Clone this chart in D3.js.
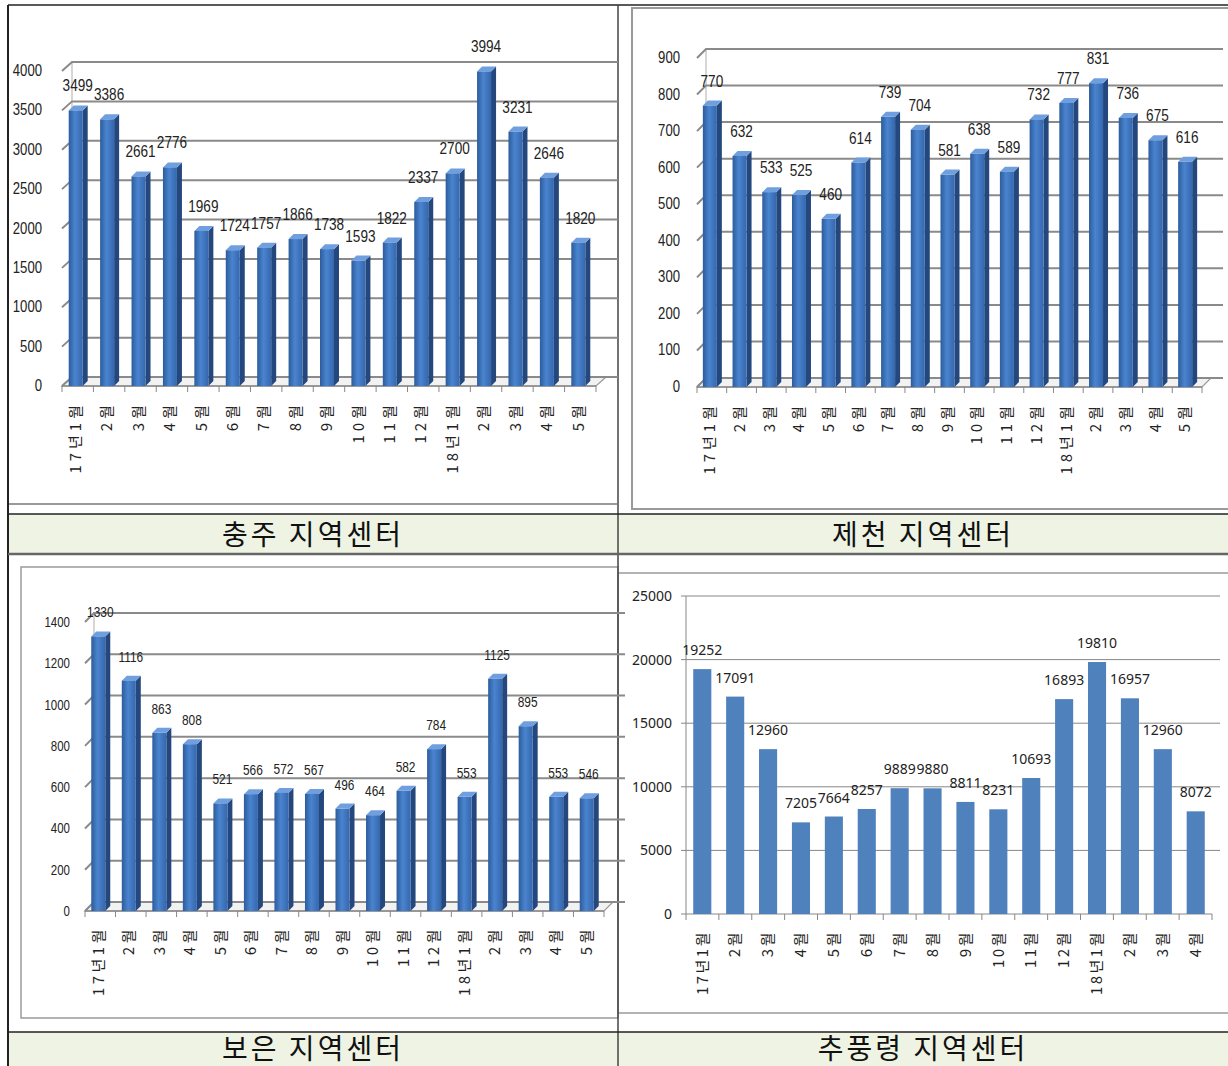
<!DOCTYPE html>
<html>
<head>
<meta charset="utf-8">
<script src="https://cdn.jsdelivr.net/npm/d3@7"></script>
<style>
  body { margin: 0; background: #fff; }
  svg { display: block; }
</style>
</head>
<body>
<svg width="1228" height="1066"></svg>
<script>
// months used on the x axes
const months17 = ["17년1월", "2월", "3월", "4월", "5월", "6월", "7월", "8월", "9월", "10월", "11월", "12월", "18년1월", "2월", "3월", "4월", "5월"];
const months16 = months17.slice(0, 16);

const chungjuValues = [3499, 3386, 2661, 2776, 1969, 1724, 1757, 1866, 1738, 1593, 1822, 2337, 2700, 3994, 3231, 2646, 1820];
const jecheonValues = [770, 632, 533, 525, 460, 614, 739, 704, 581, 638, 589, 732, 777, 831, 736, 675, 616];
const boeunValues = [1330, 1116, 863, 808, 521, 566, 572, 567, 496, 464, 582, 784, 553, 1125, 895, 553, 546];
const chupungValues = [19252, 17091, 12960, 7205, 7664, 8257, 9889, 9880, 8811, 8231, 10693, 16893, 19810, 16957, 12960, 8072];

const chungjuTicks = d3.range(0, 4001, 500);
const jecheonTicks = d3.range(0, 901, 100);
const boeunTicks = d3.range(0, 1401, 200);
const chupungTicks = d3.range(0, 25001, 5000);

const captions = ["충주 지역센터", "제천 지역센터", "보은 지역센터", "추풍령 지역센터"];

const svg = d3.select("svg");
const numFont = "'Liberation Sans', 'Noto Sans', sans-serif";
const krFont = "'Noto Sans CJK KR', sans-serif";

// gradient for the 3d bar fronts
const defs = svg.append("defs");
const grad = defs.append("linearGradient").attr("id", "barFront");
grad.append("stop").attr("offset", "0%").attr("stop-color", "#2c5c9c");
grad.append("stop").attr("offset", "45%").attr("stop-color", "#4a84cf");
grad.append("stop").attr("offset", "100%").attr("stop-color", "#3567ad");

// ---- table frame and captions ----
const frame = svg.append("g");

frame.append("rect").attr("x", 8).attr("y", 514).attr("width", 1230).attr("height", 40).attr("fill", "#eef3e4");
frame.append("rect").attr("x", 8).attr("y", 1032).attr("width", 1230).attr("height", 40).attr("fill", "#eef3e4");

// inner picture frames
frame.append("line").attr("x1", 8).attr("x2", 617).attr("y1", 504).attr("y2", 504).attr("stroke", "#999").attr("stroke-width", 2);
frame.append("rect").attr("x", 632).attr("y", 8).attr("width", 600).attr("height", 501)
  .attr("fill", "none").attr("stroke", "#9a9a9a").attr("stroke-width", 2);
frame.append("rect").attr("x", 21).attr("y", 567).attr("width", 597).attr("height", 451)
  .attr("fill", "none").attr("stroke", "#9a9a9a").attr("stroke-width", 1.5);
frame.append("rect").attr("x", 618).attr("y", 573).attr("width", 620).attr("height", 440)
  .attr("fill", "none").attr("stroke", "#9a9a9a").attr("stroke-width", 1.5);

// table lines
const tableLines = [
  [8, 5, 1228, 5, "#222", 1.5],
  [8, 5, 8, 1066, "#222", 2],
  [618, 5, 618, 1066, "#444", 1.5],
  [8, 514, 1228, 514, "#222", 1.5],
  [8, 554, 1228, 554, "#666", 2.5],
  [8, 1032, 1228, 1032, "#222", 1.5]
];
frame.selectAll("line.tbl")
  .data(tableLines)
  .join("line")
  .attr("class", "tbl")
  .attr("x1", d => d[0]).attr("y1", d => d[1])
  .attr("x2", d => d[2]).attr("y2", d => d[3])
  .attr("stroke", d => d[4]).attr("stroke-width", d => d[5]);

const capPos = [[313, 545], [923, 545], [313, 1059], [923, 1059]];
frame.selectAll("text.cap")
  .data(captions)
  .join("text")
  .attr("class", "cap")
  .attr("x", (d, i) => capPos[i][0])
  .attr("y", (d, i) => capPos[i][1])
  .attr("text-anchor", "middle")
  .style("font-family", krFont)
  .style("font-size", "28px")
  .style("letter-spacing", "3px")
  .attr("fill", "#111")
  .text(d => d);

// ---- 3d style column chart ----
function draw3D(cfg) {
  const g = svg.append("g");
  const dx = cfg.dx, dy = cfg.dy;

  const x = d3.scaleBand()
    .domain(d3.range(cfg.values.length))
    .range([cfg.left, cfg.right]);

  const y = d3.scaleLinear()
    .domain([0, d3.max(cfg.ticks)])
    .range([cfg.bottom, cfg.top]);

  // floor
  g.append("polygon")
    .attr("points", [[cfg.left, cfg.bottom], [cfg.right, cfg.bottom], [cfg.right + dx, cfg.bottom + dy], [cfg.left + dx, cfg.bottom + dy]].join(" "))
    .attr("fill", "#f2f2f2")
    .attr("stroke", "#999")
    .attr("stroke-width", 1.2);

  // left wall edge
  g.append("line")
    .attr("x1", cfg.left + dx).attr("x2", cfg.left + dx)
    .attr("y1", y(0) + dy).attr("y2", y(d3.max(cfg.ticks)) + dy)
    .attr("stroke", "#c8c8c8").attr("stroke-width", 1.5);

  // back wall gridlines
  g.selectAll("polyline.grid")
    .data(cfg.ticks)
    .join("polyline")
    .attr("class", "grid")
    .attr("points", t => [[cfg.left, y(t)], [cfg.left + dx, y(t) + dy], [cfg.right + dx + 12, y(t) + dy]].join(" "))
    .attr("fill", "none")
    .attr("stroke", "#8a8a8a")
    .attr("stroke-width", 2);

  // y axis labels (narrowed like the original)
  g.selectAll("text.ytick")
    .data(cfg.ticks)
    .join("text")
    .attr("class", "ytick")
    .attr("transform", t => `translate(${cfg.left - cfg.tickGap},${y(t) + 5}) scale(0.82,1)`)
    .attr("text-anchor", "end")
    .style("font-family", numFont)
    .style("font-size", cfg.tickSize + "px")
    .attr("fill", "#222")
    .text(t => t);

  // front axis with ticks
  g.append("line")
    .attr("x1", cfg.left).attr("x2", cfg.right)
    .attr("y1", cfg.bottom).attr("y2", cfg.bottom)
    .attr("stroke", "#888").attr("stroke-width", 1.5);
  g.selectAll("line.xtick")
    .data(d3.range(cfg.values.length + 1))
    .join("line")
    .attr("class", "xtick")
    .attr("x1", i => cfg.left + i * x.step())
    .attr("x2", i => cfg.left + i * x.step())
    .attr("y1", cfg.bottom).attr("y2", cfg.bottom + 6)
    .attr("stroke", "#888");

  const bw = cfg.barWidth, bd = 5;
  const bars = g.selectAll("g.bar")
    .data(cfg.values)
    .join("g")
    .attr("class", "bar")
    .attr("transform", (d, i) => `translate(${x(i) + x.bandwidth() / 2 - bw / 2 + cfg.barShift},0)`);

  bars.append("polygon")
    .attr("points", d => [[bw, y(d)], [bw + bd, y(d) - bd], [bw + bd, y(0) - bd], [bw, y(0)]].join(" "))
    .attr("fill", "#24487e");
  bars.append("polygon")
    .attr("points", d => [[0, y(d)], [bd, y(d) - bd], [bw + bd, y(d) - bd], [bw, y(d)]].join(" "))
    .attr("fill", "#6f9fdf");
  bars.append("rect")
    .attr("x", 0)
    .attr("y", d => y(d))
    .attr("width", bw)
    .attr("height", d => y(0) - y(d))
    .attr("fill", "url(#barFront)");

  // data labels
  g.selectAll("text.val")
    .data(cfg.values)
    .join("text")
    .attr("class", "val")
    .attr("transform", (d, i) => `translate(${x(i) + x.bandwidth() / 2 + cfg.barShift + 2},${y(d) - 19}) scale(0.85,1)`)
    .attr("text-anchor", "middle")
    .style("font-family", numFont)
    .style("font-size", cfg.valSize + "px")
    .attr("fill", "#222")
    .text(d => d);

  // category labels, rotated
  g.selectAll("text.cat")
    .data(cfg.cats)
    .join("text")
    .attr("class", "cat")
    .attr("transform", (d, i) => `translate(${x(i) + x.bandwidth() / 2 + cfg.catShift},${cfg.bottom + 15}) rotate(-90)`)
    .attr("text-anchor", "end")
    .attr("dy", "0.35em")
    .style("font-family", krFont)
    .style("font-size", "15px")
    .style("letter-spacing", cfg.catSpacing + "px")
    .attr("fill", "#222")
    .text(d => d);
}

draw3D({ values: chungjuValues, cats: months17, ticks: chungjuTicks,
  left: 62, right: 596, top: 71, bottom: 386, dx: 10, dy: -9,
  barWidth: 14, barShift: -2, catShift: -2, tickSize: 16, valSize: 16, tickGap: 20, catSpacing: 4 });

draw3D({ values: jecheonValues, cats: months17, ticks: jecheonTicks,
  left: 697, right: 1202, top: 58, bottom: 387, dx: 9, dy: -9,
  barWidth: 14, barShift: -2, catShift: -2, tickSize: 16, valSize: 16, tickGap: 17, catSpacing: 4 });

draw3D({ values: boeunValues, cats: months17, ticks: boeunTicks,
  left: 85, right: 604, top: 622, bottom: 911, dx: 9, dy: -9,
  barWidth: 14, barShift: -2, catShift: -2, tickSize: 14, valSize: 14, tickGap: 15, catSpacing: 3.5 });

// ---- flat column chart (추풍령) ----
(function () {
  const g = svg.append("g");
  const left = 686, right = 1212, bottom = 914, top = 596;

  const x = d3.scaleBand()
    .domain(d3.range(chupungValues.length))
    .range([left, right])
    .paddingInner(0.45)
    .paddingOuter(0.22);

  const y = d3.scaleLinear()
    .domain([0, 25000])
    .range([bottom, top]);

  g.selectAll("line.grid")
    .data(chupungTicks.slice(1))
    .join("line")
    .attr("class", "grid")
    .attr("x1", left).attr("x2", right + 8)
    .attr("y1", t => y(t)).attr("y2", t => y(t))
    .attr("stroke", "#878787");

  g.append("line")
    .attr("x1", left).attr("x2", left)
    .attr("y1", bottom).attr("y2", top)
    .attr("stroke", "#878787");

  const step = (right - left) / chupungValues.length;
  g.append("line")
    .attr("x1", left).attr("x2", right)
    .attr("y1", bottom).attr("y2", bottom)
    .attr("stroke", "#878787");
  g.selectAll("line.xtick")
    .data(d3.range(chupungValues.length + 1))
    .join("line")
    .attr("class", "xtick")
    .attr("x1", i => left + i * step).attr("x2", i => left + i * step)
    .attr("y1", bottom).attr("y2", bottom + 6)
    .attr("stroke", "#878787");
  g.selectAll("line.ytick")
    .data(chupungTicks)
    .join("line")
    .attr("class", "ytick")
    .attr("x1", left - 5).attr("x2", left)
    .attr("y1", t => y(t)).attr("y2", t => y(t))
    .attr("stroke", "#878787");

  g.selectAll("text.ylab")
    .data(chupungTicks)
    .join("text")
    .attr("class", "ylab")
    .attr("x", left - 14)
    .attr("y", t => y(t) + 5)
    .attr("text-anchor", "end")
    .style("font-family", "'Noto Sans', sans-serif")
    .style("font-size", "14px")
    .attr("fill", "#222")
    .text(t => t);

  g.selectAll("rect.bar")
    .data(chupungValues)
    .join("rect")
    .attr("class", "bar")
    .attr("x", (d, i) => x(i))
    .attr("y", d => y(d))
    .attr("width", x.bandwidth())
    .attr("height", d => bottom - y(d))
    .attr("fill", "#4f81bd");

  g.selectAll("text.val")
    .data(chupungValues)
    .join("text")
    .attr("class", "val")
    .attr("x", (d, i) => x(i) + x.bandwidth() / 2)
    .attr("y", d => y(d) - 14)
    .attr("text-anchor", "middle")
    .style("font-family", "'Noto Sans', sans-serif")
    .style("font-size", "14px")
    .attr("fill", "#222")
    .text(d => d);

  g.selectAll("text.cat")
    .data(months16)
    .join("text")
    .attr("class", "cat")
    .attr("transform", (d, i) => `translate(${x(i) + x.bandwidth() / 2},${bottom + 16}) rotate(-90)`)
    .attr("text-anchor", "end")
    .attr("dy", "0.35em")
    .style("font-family", krFont)
    .style("font-size", "15px")
    .style("letter-spacing", "2.5px")
    .attr("fill", "#222")
    .text(d => d);
})();
</script>
</body>
</html>
